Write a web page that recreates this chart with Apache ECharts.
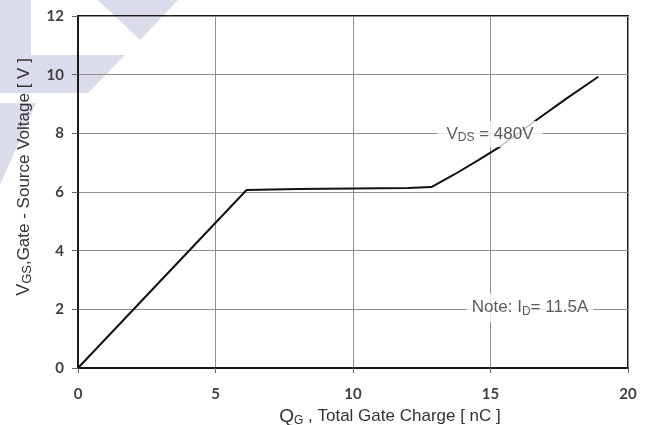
<!DOCTYPE html>
<html>
<head>
<meta charset="utf-8">
<script src="https://cdn.jsdelivr.net/npm/echarts@6/dist/echarts.min.js"></script>
<style>
html,body{margin:0;padding:0;background:#fff;}
#chart{width:650px;height:425px;}
</style>
</head>
<body>
<div id="chart"></div>
<script>
// Data
var chargeNC = [0, 6.13, 8, 10, 12, 12.85, 13.65, 14.56, 15.35, 16.62, 17.77, 18.92];
var gateVoltage = [0, 6.07, 6.10, 6.12, 6.14, 6.17, 6.58, 7.09, 7.55, 8.42, 9.19, 9.93];
var xTicks = [0, 5, 10, 15, 20];
var yTicks = [0, 2, 4, 6, 8, 10, 12];
var vdsLabelPos = [14.98, 7.98];
var noteLabelPos = [16.44, 2.06];

var curve = chargeNC.map(function (x, i) { return [x, gateVoltage[i]]; });

var chart = echarts.init(document.getElementById('chart'), null, { renderer: 'canvas' });
var wm = '#dadcec';
var tickFont = { fontFamily: 'Lato', fontWeight: 'bold', fontSize: 15, color: '#404040' };
var F = 'Liberation Sans';

chart.setOption({
  animation: false,
  backgroundColor: '#fff',
  graphic: [
    { type: 'rect', z: -10, shape: { x: 0, y: 0, width: 31, height: 55 }, style: { fill: wm } },
    { type: 'polygon', z: -10, shape: { points: [[0,55],[125,55],[88,93],[0,93]] }, style: { fill: wm } },
    { type: 'polygon', z: -10, shape: { points: [[0,103],[36,103],[0,185]] }, style: { fill: wm } },
    { type: 'polygon', z: -10, shape: { points: [[98,0],[178,0],[140,40]] }, style: { fill: wm } }
  ],
  grid: {
    left: 78, right: 22, top: 16, bottom: 57,
    outerBoundsMode: 'none', containLabel: false,
    show: true, borderColor: '#1a1a1a', borderWidth: 2, backgroundColor: 'transparent'
  },
  xAxis: {
    type: 'value', min: xTicks[0], max: xTicks[xTicks.length - 1], interval: 5,
    name: '{q|Q}{s|G}{t| , Total Gate Charge [ nC ]}',
    nameLocation: 'middle', nameGap: 24,
    nameTextStyle: {
      padding: [0, 0, 0, 74],
      rich: {
        q: { fontFamily: F, fontSize: 19, color: '#333', lineHeight: 20, verticalAlign: 'middle' },
        s: { fontFamily: F, fontSize: 12, color: '#333', lineHeight: 12, verticalAlign: 'bottom' },
        t: { fontFamily: F, fontSize: 17, color: '#333', lineHeight: 20, verticalAlign: 'middle' }
      }
    },
    axisLine: { show: true, lineStyle: { color: '#1a1a1a', width: 2 } },
    axisTick: { show: true, inside: false, length: 5, lineStyle: { color: '#666' } },
    axisLabel: Object.assign({ margin: 19 }, tickFont),
    splitLine: { show: true, lineStyle: { color: '#8f8f8f', width: 1 } }
  },
  yAxis: {
    type: 'value', min: yTicks[0], max: yTicks[yTicks.length - 1], interval: 2,
    name: '{q|V}{s|GS}{t|,Gate - Source Voltage [ V ]}',
    nameLocation: 'middle', nameGap: 44, nameRotate: 90,
    nameTextStyle: {
      padding: [0, 0, 0, 30],
      rich: {
        q: { fontFamily: F, fontSize: 18, color: '#333', lineHeight: 20, verticalAlign: 'middle' },
        s: { fontFamily: F, fontSize: 13, color: '#333', lineHeight: 13, verticalAlign: 'bottom' },
        t: { fontFamily: F, fontSize: 17, color: '#333', lineHeight: 20, verticalAlign: 'middle' }
      }
    },
    axisLine: { show: true, lineStyle: { color: '#1a1a1a', width: 2 } },
    axisTick: { show: true, inside: false, length: 6, lineStyle: { color: '#666' } },
    axisLabel: Object.assign({ margin: 14 }, tickFont),
    splitLine: { show: true, lineStyle: { color: '#8f8f8f', width: 1 } }
  },
  series: [
    {
      type: 'line', data: curve, showSymbol: false, symbol: 'none', smooth: false,
      lineStyle: { color: '#111', width: 2 }, z: 2
    },
    {
      type: 'scatter', symbolSize: 0, z: 10,
      data: [vdsLabelPos],
      label: {
        show: true, position: 'inside',
        formatter: '{a|V}{b|DS}{a| = 480V}',
        backgroundColor: '#fff', padding: [3, 9],
        rich: {
          a: { fontFamily: F, fontSize: 17, color: '#333', lineHeight: 20, verticalAlign: 'middle' },
          b: { fontFamily: F, fontSize: 12, color: '#333', lineHeight: 12, verticalAlign: 'bottom' }
        }
      }
    },
    {
      type: 'scatter', symbolSize: 0, z: 10,
      data: [noteLabelPos],
      label: {
        show: true, position: 'inside',
        formatter: '{a|Note: I}{b|D}{a|= 11.5A}',
        backgroundColor: '#fff', padding: [4, 5],
        rich: {
          a: { fontFamily: F, fontSize: 17, color: '#333', lineHeight: 21, verticalAlign: 'middle' },
          b: { fontFamily: F, fontSize: 12, color: '#333', lineHeight: 12, verticalAlign: 'bottom' }
        }
      }
    }
  ]
});
</script>
</body>
</html>
